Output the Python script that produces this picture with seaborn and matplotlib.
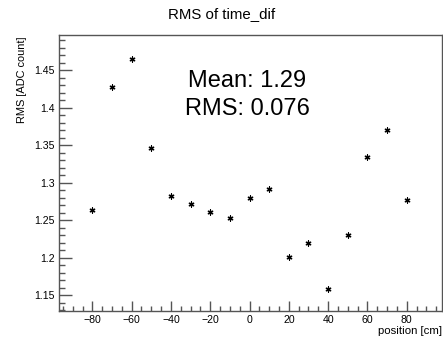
import matplotlib
matplotlib.use("Agg")
import matplotlib.pyplot as plt
import seaborn as sns
import pandas as pd
from matplotlib.ticker import MultipleLocator

positions = [-80, -70, -60, -50, -40, -30, -20, -10, 0, 10, 20, 30, 40, 50, 60, 70, 80]
rms_values = [1.264, 1.428, 1.465, 1.346, 1.282, 1.272, 1.261, 1.253, 1.280, 1.292,
              1.201, 1.220, 1.158, 1.230, 1.335, 1.370, 1.277]
title = "RMS of time_dif"
stats_lines = ["Mean: 1.29", "RMS: 0.076"]

sns.set_style("white")
plt.rcParams['font.family'] = ['Liberation Sans', 'DejaVu Sans']
plt.rcParams['text.color'] = 'black'
plt.rcParams['xtick.labelcolor'] = 'black'
plt.rcParams['ytick.labelcolor'] = 'black'

df = pd.DataFrame({"position": positions, "rms": rms_values})

fig = plt.figure(figsize=(4.43, 3.43), dpi=100)
ax = fig.add_axes([0.133, 0.093, 0.865, 0.805])
sns.scatterplot(data=df, x="position", y="rms", ax=ax, marker=(6, 2, 0),
                s=13, color="black", linewidth=0.9, edgecolor="black", legend=False)

ax.set_xlim(-97, 98)
ax.set_ylim(1.129, 1.497)
ax.xaxis.set_major_locator(MultipleLocator(20))
ax.xaxis.set_minor_locator(MultipleLocator(5))
ax.yaxis.set_major_locator(MultipleLocator(0.05))
ax.yaxis.set_minor_locator(MultipleLocator(0.01))
ax.yaxis.set_major_formatter(matplotlib.ticker.FuncFormatter(lambda v, p: f"{v:g}"))
ax.xaxis.set_major_formatter(matplotlib.ticker.FuncFormatter(lambda v, p: f"{v:g}".replace("-", "\u2212")))
ax.tick_params(axis="both", which="major", direction="in", length=9, width=1,
               color="#555555", labelsize=7.6, labelcolor="black",
               top=False, right=False, left=True, bottom=True, pad=3)
ax.tick_params(axis="both", which="minor", direction="in", length=4.5, width=1,
               color="#555555", top=False, right=False, left=True, bottom=True)
ax.tick_params(axis="x", which="major", length=7)
ax.tick_params(axis="x", which="minor", length=3.5)
for sp in ax.spines.values():
    sp.set_color("#555555")
    sp.set_linewidth(1.0)

ax.set_xlabel("")
ax.set_ylabel("")
fig.text(0.998, 0.035, "position [cm]", ha="right", va="center", fontsize=8.2, color="black")
fig.text(0.05, 0.895, "RMS [ADC count]", ha="center", va="top", rotation=90, fontsize=7.9, color="black")
fig.text(0.5, 0.958, title, ha="center", va="center", fontsize=10.8, color="black")
fig.text(0.558, 0.765, stats_lines[0], ha="center", va="center", fontsize=17, color="black")
fig.text(0.558, 0.681, stats_lines[1], ha="center", va="center", fontsize=17, color="black")

fig.savefig("out.png", dpi=100)
